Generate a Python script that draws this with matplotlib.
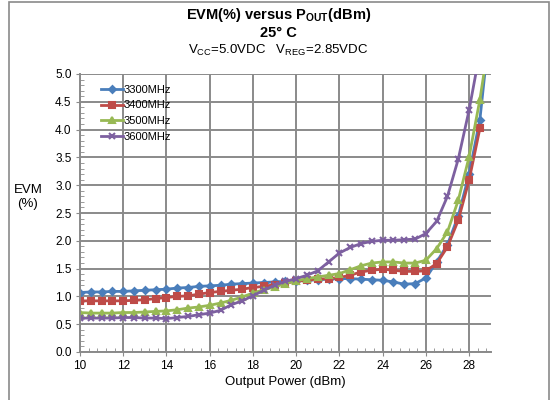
import numpy as np
import matplotlib.pyplot as plt
from matplotlib.patches import Rectangle
from matplotlib.ticker import MultipleLocator, FormatStrFormatter

plt.rcParams['font.family'] = ['Liberation Sans', 'DejaVu Sans']
plt.rcParams['mathtext.fontset'] = 'custom'
plt.rcParams['mathtext.rm'] = 'Liberation Sans'
plt.rcParams['mathtext.bf'] = 'Liberation Sans:bold'

# output power (dBm), one point every 0.5 dBm
pout = np.arange(10, 29.01, 0.5)

evm_3300 = [1.07, 1.08, 1.08, 1.09, 1.09, 1.10, 1.11, 1.12, 1.13, 1.15,
            1.16, 1.18, 1.19, 1.20, 1.22, 1.23, 1.24, 1.25, 1.26, 1.27,
            1.28, 1.29, 1.30, 1.31, 1.32, 1.32, 1.31, 1.30, 1.29, 1.26,
            1.22, 1.23, 1.33, 1.62, 1.93, 2.45, 3.20, 4.18, 6.00]
evm_3400 = [0.92, 0.92, 0.92, 0.92, 0.92, 0.93, 0.94, 0.96, 0.98, 1.00,
            1.01, 1.04, 1.07, 1.09, 1.11, 1.13, 1.16, 1.18, 1.21, 1.24,
            1.27, 1.29, 1.31, 1.32, 1.34, 1.38, 1.44, 1.47, 1.49, 1.47,
            1.45, 1.45, 1.46, 1.59, 1.89, 2.37, 3.09, 4.02]
evm_3500 = [0.71, 0.70, 0.70, 0.70, 0.71, 0.71, 0.72, 0.73, 0.74, 0.76,
            0.79, 0.81, 0.84, 0.88, 0.93, 0.99, 1.06, 1.12, 1.17, 1.23,
            1.28, 1.32, 1.35, 1.38, 1.41, 1.48, 1.55, 1.60, 1.62, 1.62,
            1.60, 1.60, 1.65, 1.86, 2.16, 2.73, 3.51, 4.54, 5.80]
evm_3600 = [0.61, 0.61, 0.61, 0.61, 0.62, 0.62, 0.61, 0.61, 0.60, 0.62,
            0.64, 0.67, 0.70, 0.75, 0.85, 0.92, 1.01, 1.11, 1.20, 1.27,
            1.32, 1.38, 1.46, 1.62, 1.78, 1.88, 1.95, 1.99, 2.01, 2.01,
            2.02, 2.03, 2.13, 2.35, 2.80, 3.47, 4.35, 5.40]

series = [
    ('3300MHz', evm_3300, '#4A7EBB', 'D', 3.5),
    ('3400MHz', evm_3400, '#BE4B48', 's', 5),
    ('3500MHz', evm_3500, '#98B954', '^', 5),
    ('3600MHz', evm_3600, '#7D60A0', 'x', 5),
]

fig = plt.figure(figsize=(5.57, 4.0), dpi=100)
ax = fig.add_axes([80 / 557, 1 - 352 / 400, (490.7 - 80) / 557, (352 - 74) / 400])

for name, vals, col, mk, ms in series:
    ax.plot(pout[:len(vals)], vals, color=col, lw=2, marker=mk, ms=ms,
            mew=1.5, label=name, clip_on=True)

ax.set_xlim(10, 29.0)
ax.set_ylim(0, 5)
ax.xaxis.set_major_locator(MultipleLocator(2))
ax.xaxis.set_minor_locator(MultipleLocator(0.4))
ax.yaxis.set_major_locator(MultipleLocator(0.5))
ax.yaxis.set_minor_locator(MultipleLocator(0.1))
ax.yaxis.set_major_formatter(FormatStrFormatter('%.1f'))
ax.grid(True, which='major', color='#8a8a8a', lw=1.4)
ax.set_axisbelow(True)
for s in ['top', 'right']:
    ax.spines[s].set_visible(False)
for s in ['left', 'bottom']:
    ax.spines[s].set_color('#8a8a8a')
    ax.spines[s].set_linewidth(1.4)
ax.tick_params(which='major', direction='out', length=3, color='#8a8a8a',
               labelsize=8.5, pad=3)
ax.tick_params(which='minor', direction='in', length=3, color='#8a8a8a')

ax.set_xlabel('Output Power (dBm)', fontsize=9.5, labelpad=3)
fig.text(28 / 557, 1 - 197 / 400, 'EVM\n(%)', ha='center', va='center',
         fontsize=9.5, linespacing=1.3)

leg = ax.legend(loc='upper left', bbox_to_anchor=(0.035, 0.985), frameon=False,
                fontsize=8, handlelength=2.0, handletextpad=0.0,
                labelspacing=0.5, borderaxespad=0.2)

fig.text(0.5, 1 - 15 / 400, r'EVM(%) versus P$_{\mathbf{OUT}}$(dBm)',
         ha='center', va='center', fontsize=10.5, fontweight='bold')
fig.text(0.5, 1 - 33 / 400, '25° C', ha='center', va='center',
         fontsize=10.5, fontweight='bold')
fig.text(0.5, 1 - 50 / 400,
         r'V$_{\mathregular{CC}}$=5.0VDC   V$_{\mathregular{REG}}$=2.85VDC',
         ha='center', va='center', fontsize=9.5)

fig.patches.append(Rectangle((9 / 557, -0.02), (549 - 9) / 557, 1.0 - 2 / 400 + 0.02,
                             transform=fig.transFigure, fill=False,
                             edgecolor='#8a8a8a', lw=1.2))

fig.savefig('out.png', dpi=100)
